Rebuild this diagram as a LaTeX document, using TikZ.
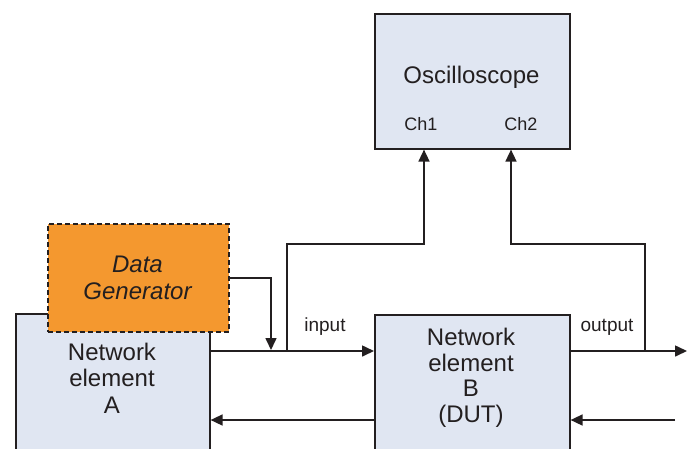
\documentclass[tikz,border=0pt]{standalone}
\usepackage{fontspec}
\setmainfont{Liberation Sans}
\usetikzlibrary{arrows.meta}
\definecolor{boxblue}{HTML}{E0E6F2}
\definecolor{dgorange}{HTML}{F4982F}
\definecolor{ink}{HTML}{231F20}
\begin{document}
\begin{tikzpicture}[x=1pt,y=-1pt,
  line width=1.6pt, draw=ink,
  blk/.style={draw=ink, fill=boxblue, line width=1.6pt, rectangle, inner sep=0pt},
  lbl/.style={text=ink, font=\fontsize{24}{26.5}\selectfont, align=center, inner sep=0pt},
  small/.style={text=ink, font=\fontsize{19}{21}\selectfont, inner sep=0pt},
  arr/.style={draw=ink, line width=1.6pt, -{Triangle[length=12pt,width=11pt]}},
  ln/.style={draw=ink, line width=1.6pt}]
\useasboundingbox (0,0) rectangle (691,448);
\clip (0,0) rectangle (691,448);
% boxes
\node[blk, minimum width=194pt, minimum height=160pt, anchor=north west] (A) at (15,313) {};
\node[lbl] (Atext) at (112,378) {Network\\element\\A};
\node[blk, minimum width=195pt, minimum height=160pt, anchor=north west] (B) at (374,314) {};
\node[lbl, font=\fontsize{24}{25.5}\selectfont] (Btext) at (471,378) {Network\\element\\B\\(DUT)};
\node[blk, minimum width=195pt, minimum height=135pt, anchor=north west] (O) at (374,13) {};
\node[lbl] (Otext) at (471.5,77) {Oscilloscope};
\node[small, font=\fontsize{18}{20}\selectfont] (ch1) at (421,124) {Ch1};
\node[small, font=\fontsize{18}{20}\selectfont] (ch2) at (521,124) {Ch2};
\node[draw=ink, dashed, dash pattern=on 5pt off 3pt, fill=dgorange, line width=1.6pt, minimum width=181pt, minimum height=108pt, anchor=north west, inner sep=0pt] (DG) at (47,223) {};
\node[lbl, font=\itshape\fontsize{24}{27}\selectfont] (DGtext) at (137.5,278) {Data\\Generator};
% coordinates
\coordinate (jm) at (287,351);
\coordinate (j1) at (271,350);
\coordinate (k1) at (424,244);
\coordinate (jo) at (645,351);
\coordinate (k2) at (511,244);
\coordinate (oend) at (687,351);
\coordinate (rin) at (675,420);
% connectors
\draw[arr] (DG.east |- 0,278) -| (j1);
\draw[arr] (A.east |- jm) -- (B.west |- jm);
\draw[arr] (jm) |- (k1) -- (O.south -| k1);
\draw[arr] (B.east |- jm) -- (oend);
\draw[arr] (jo) |- (k2) -- (O.south -| k2);
\draw[arr] (rin) -- (B.east |- rin);
\draw[arr] (B.west |- rin) -- (A.east |- rin);
% labels
\node[small] (inlbl) at (325,327) {input};
\node[small] (outlbl) at (607,327) {output};
\end{tikzpicture}
\end{document}
